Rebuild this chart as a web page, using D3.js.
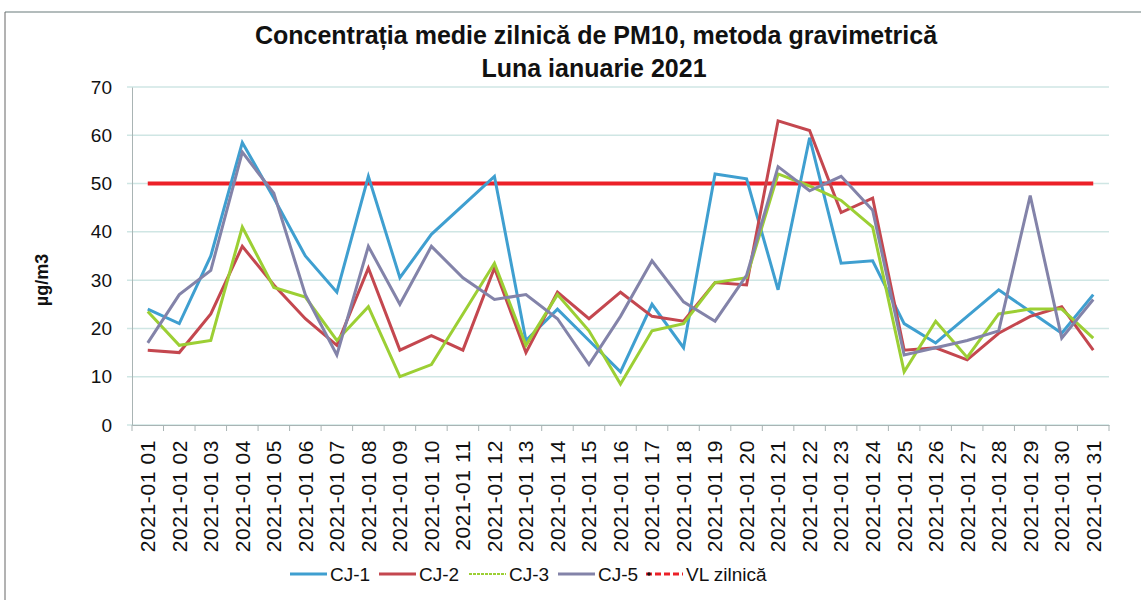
<!DOCTYPE html>
<html>
<head>
<meta charset="utf-8">
<script src="https://cdn.jsdelivr.net/npm/d3@7"></script>
<style>
  body { margin: 0; background: #fff; }
  svg { font-family: "Liberation Sans", Arial, sans-serif; }
</style>
</head>
<body>
<svg width="1141" height="600"></svg>
<script>
var days = d3.range(1, 32).map(function (d) { return "2021-01 " + (d < 10 ? "0" + d : d); });

var cj1 = [24, 21, 35, 58.5, 47, 35, 27.5, 51.5, 30.5, 39.5, 45.5, 51.5, 17.5, 24, 17.5, 11, 25, 16, 52, 51,
           28, 59.5, 33.5, 34, 21, 17, 22.5, 28, 23.5, 19, 27];
var cj2 = [15.5, 15, 23, 37, 29, 22, 16.5, 32.5, 15.5, 18.5, 15.5, 32.5, 15, 27.5, 22, 27.5, 22.5, 21.5, 29.5, 29,
           63, 61, 44, 47, 15.5, 16, 13.5, 19, 22.5, 24.5, 15.5];
var cj3 = [23.5, 16.5, 17.5, 41, 28.5, 26.5, 17.5, 24.5, 10, 12.5, 23, 33.5, 16.5, 27, 19.5, 8.5, 19.5, 21, 29.5, 30.5,
           52, 49.5, 46.5, 41, 11, 21.5, 14, 23, 24, 24, 18];
var cj5 = [17, 27, 32, 56.5, 48, 27, 14.5, 37, 25, 37, 30.5, 26, 27, 22, 12.5, 22.5, 34, 25.5, 21.5, 31,
           53.5, 48.5, 51.5, 44.5, 14.5, 16, 17.5, 19.5, 47.5, 18, 26];
var vl = days.map(function () { return 50; });

var seriesNames = ["CJ-1", "CJ-2", "CJ-3", "CJ-5", "VL zilnică"];
var yTicks = [0, 10, 20, 30, 40, 50, 60, 70];

var colors = {
  "CJ-1": "#3f9fd0",
  "CJ-2": "#c4474f",
  "CJ-3": "#9ccf34",
  "CJ-5": "#8383a9",
  "VL zilnică": "#ec2028"
};

var svg = d3.select("svg");
var plotLeft = 132, plotRight = 1109, plotTop = 87, plotBottom = 425;

// chart frame (scan border)
svg.append("line").attr("x1", 5).attr("x2", 1141).attr("y1", 12).attr("y2", 12)
  .attr("stroke", "#9aa6a6").attr("stroke-width", 1.5);
svg.append("line").attr("x1", 5).attr("x2", 5).attr("y1", 12).attr("y2", 600)
  .attr("stroke", "#666").attr("stroke-width", 1);

var x = d3.scaleBand().domain(days).range([plotLeft, plotRight]);
var y = d3.scaleLinear().domain([0, 70]).range([plotBottom, plotTop]);

// gridlines
svg.append("g").selectAll("line").data(yTicks).enter().append("line")
  .attr("x1", plotLeft - 5).attr("x2", plotRight)
  .attr("y1", function (d) { return y(d); })
  .attr("y2", function (d) { return y(d); })
  .attr("stroke", "#cfe6e4").attr("stroke-width", 1.5);

// y axis
var yAxis = svg.append("g").attr("transform", "translate(" + plotLeft + ",0)")
  .call(d3.axisLeft(y).tickValues(yTicks).tickSize(0).tickPadding(20));
yAxis.select(".domain").attr("stroke", "#a9b4b4");
yAxis.selectAll("text").attr("font-size", 19).attr("fill", "#111");

// x axis
var xAxis = svg.append("g").attr("transform", "translate(0," + plotBottom + ")")
  .call(d3.axisBottom(x).tickSize(0));
xAxis.select(".domain").attr("stroke", "#a9b4b4");
xAxis.selectAll("text")
  .attr("transform", "rotate(-90)")
  .attr("text-anchor", "end")
  .attr("x", -15).attr("y", 0).attr("dy", "0.35em")
  .attr("font-size", 21).attr("letter-spacing", 0.6).attr("fill", "#111");
// tick marks at category boundaries
svg.append("g").selectAll("line").data(days.concat(["end"])).enter().append("line")
  .attr("x1", function (d, i) { return plotLeft + i * x.step(); })
  .attr("x2", function (d, i) { return plotLeft + i * x.step(); })
  .attr("y1", plotBottom).attr("y2", plotBottom + 6)
  .attr("stroke", "#a9b4b4");

var line = d3.line()
  .x(function (d, i) { return x(days[i]) + x.bandwidth() / 2; })
  .y(function (d) { return y(d); });

var data = [
  { name: "CJ-1", values: cj1 },
  { name: "CJ-2", values: cj2 },
  { name: "CJ-3", values: cj3 },
  { name: "CJ-5", values: cj5 }
];

// limit line drawn first
svg.append("path").datum(vl).attr("d", line)
  .attr("fill", "none").attr("stroke", colors["VL zilnică"]).attr("stroke-width", 4);

svg.append("g").selectAll("path").data(data).enter().append("path")
  .attr("d", function (d) { return line(d.values); })
  .attr("fill", "none")
  .attr("stroke", function (d) { return colors[d.name]; })
  .attr("stroke-width", 3)
  .attr("stroke-linejoin", "miter");

// title
svg.append("text").attr("x", 596).attr("y", 44).attr("text-anchor", "middle")
  .attr("font-size", 25).attr("font-weight", "bold").attr("fill", "#111")
  .text("Concentrația medie zilnică de PM10,  metoda gravimetrică");
svg.append("text").attr("x", 594).attr("y", 77).attr("text-anchor", "middle")
  .attr("font-size", 25).attr("font-weight", "bold").attr("fill", "#111")
  .text("Luna ianuarie 2021");

// y label
svg.append("text").attr("transform", "translate(48,280) rotate(-90)")
  .attr("text-anchor", "middle").attr("font-size", 18).attr("font-weight", "bold")
  .attr("fill", "#111")
  .text("µg/m3");

// legend
var legendX = [290, 379, 469, 558, 646];
var legend = svg.append("g").selectAll("g").data(seriesNames).enter().append("g")
  .attr("transform", function (d, i) { return "translate(" + legendX[i] + ",574)"; });
legend.append("line").attr("x1", 0).attr("x2", 37).attr("y1", 0).attr("y2", 0)
  .attr("stroke", function (d) { return colors[d]; })
  .attr("stroke-width", function (d) { return d === "CJ-3" ? 2 : 3; })
  .attr("stroke-dasharray", function (d) { return d === "VL zilnică" ? "6,3" : d === "CJ-3" ? "3,1" : null; });
legend.filter(function (d) { return d === "VL zilnică"; }).append("circle")
  .attr("cx", 3).attr("cy", 0).attr("r", 1.8).attr("fill", "#111");
legend.append("text").attr("x", 40).attr("y", 0).attr("dy", "0.35em")
  .attr("font-size", 19).attr("fill", "#111")
  .text(function (d) { return d; });
</script>
</body>
</html>
